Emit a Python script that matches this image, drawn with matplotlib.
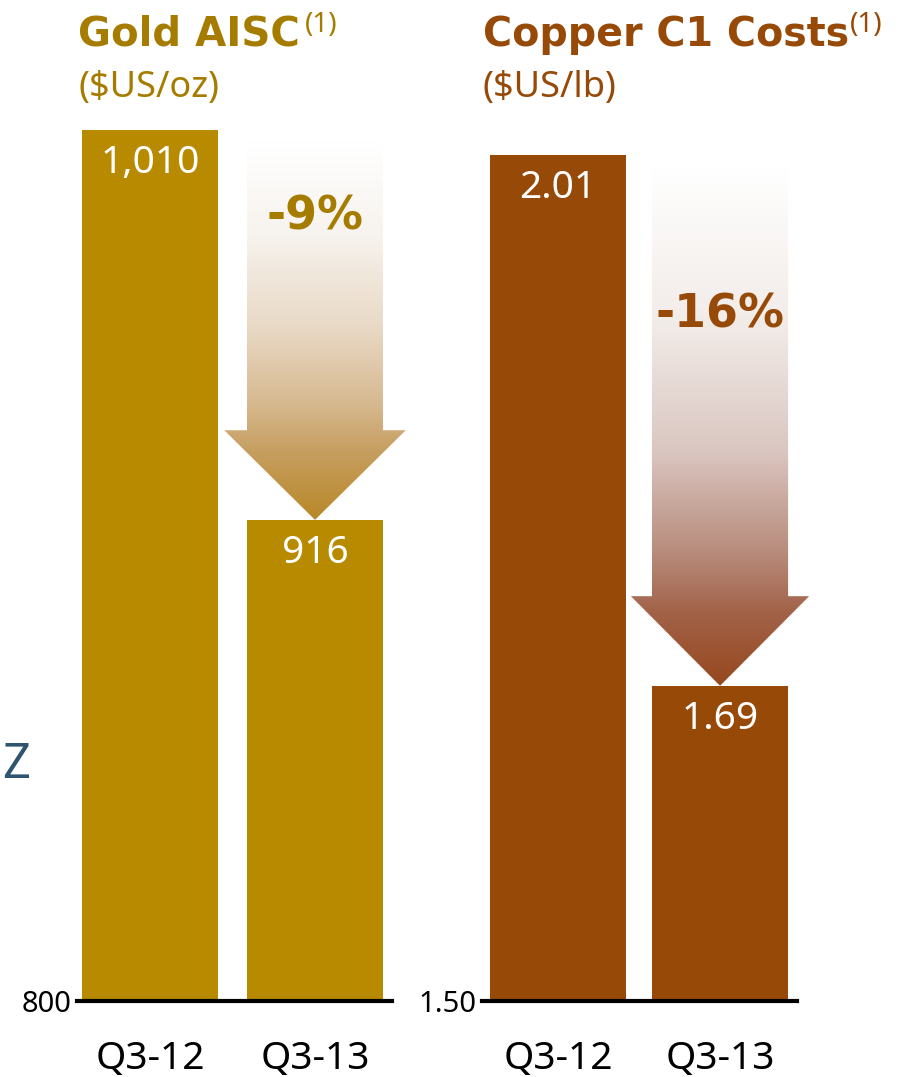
import numpy as np
import matplotlib
matplotlib.use("Agg")
import matplotlib.pyplot as plt
from matplotlib.colors import LinearSegmentedColormap
from matplotlib.patches import Polygon

# data
categories = ["Q3-12", "Q3-13"]
gold_values = [1010, 916]
copper_values = [2.01, 1.69]
gold_labels = ["1,010", "916"]
copper_labels = ["2.01", "1.69"]
gold_change = "-9%"
copper_change = "-16%"

GOLD = "#B88A00"
GOLD_TXT = "#A67C00"
COPPER = "#974A08"

plt.rcParams['font.family'] = ['Noto Sans', 'DejaVu Sans']
BOLD = ['DejaVu Sans']

fig = plt.figure(figsize=(9, 10.77), dpi=100)
W, H = 900, 1077


def px_axes(x0, x1, y_bottom, y_top):
    return fig.add_axes([x0 / W, 1 - y_bottom / H, (x1 - x0) / W, (y_bottom - y_top) / H])


def draw_panel(ax, values, labels, base, top, xlim, bar_w, color, txt_color, grad, change, change_y, tick_fmt):
    x = np.arange(len(values))
    ax.bar(x, np.array(values) - base, bottom=base, width=bar_w, color=color, zorder=2)
    for xi, v, lab in zip(x, values, labels):
        ax.annotate(lab, (xi, v), xytext=(0, -33), textcoords='offset pixels',
                    ha='center', va='center', color='white', fontsize=28, zorder=5)

    # gradient arrow from the first bar's level down to the second bar's top
    span = top - base
    head_h = 0.09 * span
    hw = bar_w / 2
    head_w = 0.55
    y_top = values[0] - 0.01 * span
    y_tip = values[1]
    y_head = y_tip + head_h
    xc = x[1]
    pts = [(xc - hw, y_top), (xc + hw, y_top), (xc + hw, y_head), (xc + head_w, y_head),
           (xc, y_tip), (xc - head_w, y_head), (xc - hw, y_head)]
    poly = Polygon(pts, closed=True, facecolor='none', edgecolor='none')
    ax.add_patch(poly)
    cmap = LinearSegmentedColormap.from_list('g', grad)
    img = ax.imshow(np.linspace(0, 1, 256).reshape(-1, 1), cmap=cmap, aspect='auto',
                    extent=[xc - head_w, xc + head_w, y_tip, y_top], origin='upper', zorder=1)
    img.set_clip_path(poly)
    img.set_clip_box(fig.bbox)
    ax.text(xc, change_y, change, ha='center', va='center', color=txt_color,
            fontsize=33, fontweight='bold', family=BOLD, zorder=5)

    ax.set_xlim(*xlim)
    ax.set_ylim(base, top)
    for s in ['top', 'right', 'left']:
        ax.spines[s].set_visible(False)
    ax.spines['bottom'].set_linewidth(3)
    ax.spines['bottom'].set_zorder(6)
    ax.set_yticks([base])
    ax.set_yticklabels([tick_fmt.format(base)], fontsize=21)
    ax.set_xticks(x)
    ax.set_xticklabels(categories, fontsize=28)
    ax.tick_params(axis='y', length=0, pad=4)
    ax.tick_params(axis='x', length=0, pad=28)
    ax.set_facecolor('none')


gold_grad = [(0.0, (1, 1, 1)), (0.25, (247/255, 243/255, 238/255)), (0.5, (232/255, 216/255, 196/255)),
             (0.7, (214/255, 184/255, 142/255)), (0.82, (198/255, 158/255, 96/255)), (1.0, (184/255, 136/255, 40/255))]
copper_grad = [(0.0, (1, 1, 1)), (0.3, (242/255, 236/255, 233/255)), (0.55, (218/255, 198/255, 192/255)),
               (0.75, (182/255, 138/255, 122/255)), (0.86, (162/255, 98/255, 72/255)), (1.0, (150/255, 72/255, 30/255))]

ax1 = px_axes(77, 392, 1001, 5.5)
draw_panel(ax1, gold_values, gold_labels, 800, 1040, (-0.4424, 1.4667), 0.824, GOLD, GOLD_TXT,
           gold_grad, gold_change, 989, "{:d}")

ax2 = px_axes(482, 797, 1001, 5.6)
draw_panel(ax2, copper_values, copper_labels, 1.50, 2.10, (-0.469, 1.475), 0.84, COPPER, COPPER,
           copper_grad, copper_change, 1.9135, "{:.2f}")


def ftext(x, y, s, **kw):
    fig.text(x / W, 1 - y / H, s, **kw)


ftext(78, 46, "Gold AISC", color=GOLD_TXT, fontsize=29, fontweight='bold', family=BOLD, va='baseline')
ftext(305, 32, "(1)", color=GOLD_TXT, fontsize=20, va='baseline')
ftext(78, 97, "($US/oz)", color=GOLD_TXT, fontsize=26, va='baseline')
ftext(483, 46, "Copper C1 Costs", color=COPPER, fontsize=28.5, fontweight='bold', family=BOLD, va='baseline')
ftext(850, 32, "(1)", color=COPPER, fontsize=20, va='baseline')
ftext(483, 97, "($US/lb)", color=COPPER, fontsize=26, va='baseline')
ftext(2, 765, "Z", color="#2E5470", fontsize=35, va='center')

fig.savefig("out.png", dpi=100)
